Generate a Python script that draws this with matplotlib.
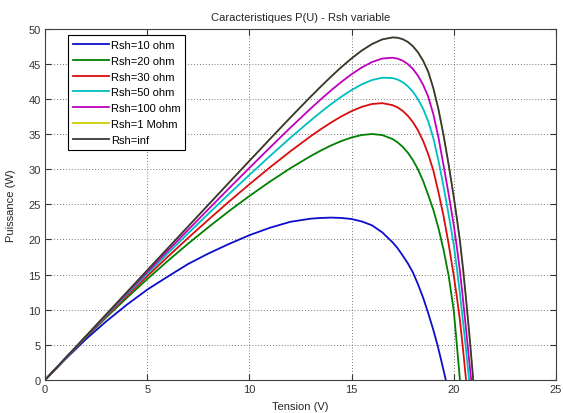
import matplotlib
matplotlib.use("Agg")
import matplotlib.pyplot as plt

plt.rcParams["font.family"] = ["Liberation Sans", "DejaVu Sans"]

# P(U) (U in volts, P in watts)
u_base = [0, 1, 2, 3, 4, 5, 6, 7, 8, 9, 10, 11, 12, 13,
          13.5, 14, 14.5, 15, 15.5, 16, 16.5, 17, 17.25, 17.5, 17.75, 18, 18.25, 18.5, 18.75, 19]

u_r10 = u_base + [19.2, 19.4, 19.61]
p_r10 = [0, 2.97, 5.8, 8.35, 10.7, 12.85, 14.7, 16.5, 18.0, 19.35, 20.6, 21.65, 22.5, 22.95,
         23.05, 23.1, 23.05, 22.9, 22.55, 22.0, 21.0, 19.6, 18.75, 17.7, 16.6, 15.3, 13.6, 11.7, 9.5, 7.1,
         5.0, 2.6, 0]

u_r20 = u_base + [19.25, 19.5, 19.75, 20, 20.15, 20.3]
p_r20 = [0, 3.07, 6.04, 8.91, 11.68, 14.35, 16.92, 19.39, 21.75, 24.02, 26.17, 28.21, 30.12, 31.86,
         32.65, 33.37, 33.99, 34.5, 34.85, 34.99, 34.84, 34.28, 33.81, 33.17, 32.34, 31.28, 29.95, 28.3, 26.3, 24.2,
         21.6, 18.5, 14.8, 9.8, 5.0, 0]

u_r30 = u_base + [19.25, 19.5, 19.75, 20, 20.15, 20.3, 20.45, 20.6]
p_r30 = [0, 3.09, 6.11, 9.06, 11.95, 14.77, 17.52, 20.2, 22.82, 25.37, 27.84, 30.23, 32.52, 34.68,
         35.69, 36.63, 37.5, 38.25, 38.86, 39.26, 39.38, 39.1, 38.77, 38.28, 37.59, 36.68, 35.5, 34.0, 32.1, 29.8,
         26.7, 23.3, 19.3, 14.8, 11.8, 8.5, 4.4, 0]

u_r50 = u_base + [19.25, 19.5, 19.75, 20, 20.15, 20.3, 20.5, 20.62, 20.75]
p_r50 = [0, 3.1, 6.16, 9.18, 12.16, 15.1, 18.0, 20.86, 23.67, 26.45, 29.17, 31.84, 34.44, 36.93,
         38.12, 39.25, 40.3, 41.25, 42.06, 42.67, 43.0, 42.95, 42.74, 42.36, 41.79, 41.0, 39.94, 38.56, 36.8, 34.4,
         31.2, 27.5, 23.5, 19.2, 15.9, 12.3, 7.0, 3.7, 0]

u_r100 = u_base + [19.25, 19.5, 19.75, 20, 20.15, 20.3, 20.45, 20.6, 20.72, 20.85]
p_r100 = [0, 3.11, 6.2, 9.27, 12.32, 15.35, 18.36, 21.35, 24.31, 27.26, 30.17, 33.05, 35.88, 38.62,
          39.94, 41.21, 42.4, 43.5, 44.46, 45.23, 45.73, 45.84, 45.71, 45.42, 44.94, 44.24, 43.27, 41.99, 40.3, 37.8,
          34.5, 30.5, 26.4, 22.0, 18.9, 15.5, 11.5, 7.2, 3.7, 0]

u_inf = u_base + [19.25, 19.5, 19.75, 20, 20.15, 20.3, 20.45, 20.6, 20.78, 20.95]
p_inf = [0, 3.12, 6.24, 9.36, 12.48, 15.6, 18.72, 21.84, 24.95, 28.07, 31.17, 34.26, 37.32, 40.31,
         41.76, 43.17, 44.51, 45.75, 46.87, 47.79, 48.45, 48.73, 48.69, 48.48, 48.09, 47.48, 46.6, 45.41, 43.84, 41.5,
         38.5, 34.8, 30.6, 26.0, 23.0, 19.8, 15.9, 11.5, 5.9, 0]
p_1meg = p_inf  # same as Rsh=inf at this scale, hidden under it

labels = ["Rsh=10 ohm", "Rsh=20 ohm", "Rsh=30 ohm", "Rsh=50 ohm",
          "Rsh=100 ohm", "Rsh=1 Mohm", "Rsh=inf"]
colors = [(0.05, 0.05, 0.8), (0.0, 0.5, 0.0), (0.85, 0.05, 0.05), (0.0, 0.75, 0.75),
          (0.75, 0.0, 0.75), (0.8, 0.8, 0.0), (0.22, 0.22, 0.22)]
series = [(u_r10, p_r10), (u_r20, p_r20), (u_r30, p_r30), (u_r50, p_r50),
          (u_r100, p_r100), (u_inf, p_1meg), (u_inf, p_inf)]

fig = plt.figure(figsize=(5.63, 4.14), dpi=100)
ax = fig.add_axes([45 / 563, 33 / 414, 511 / 563, 351.5 / 414])

for (u, p), c, lab in zip(series, colors, labels):
    ax.plot(u, p, color=c, lw=1.0 if lab == "Rsh=1 Mohm" else 1.3, label=lab)

ax.set_xlim(0, 25); ax.set_ylim(0, 50)
ax.set_xticks(range(0, 26, 5)); ax.set_yticks(range(0, 51, 5))
ax.grid(True, color="0.3", ls=(0, (1, 2.5)), lw=0.6)
ax.tick_params(direction="in", top=True, right=True, length=4, width=0.8,
               labelsize=8, colors="0.2", pad=3)
for s in ax.spines.values():
    s.set_color("0.25"); s.set_linewidth(0.8)

ax.set_title("Caracteristiques P(U) - Rsh variable", fontsize=8, color="0.15", pad=6)
ax.set_xlabel("Tension (V)", fontsize=8, color="0.15", labelpad=5)
ax.set_ylabel("Puissance (W)", fontsize=8, color="0.15", labelpad=9)

leg = ax.legend(loc="upper left", bbox_to_anchor=(68 / 563, 1 - 36 / 414),
                bbox_transform=fig.transFigure, fontsize=8, handlelength=3.2,
                labelspacing=0.52, borderpad=0.45, handletextpad=0.2,
                fancybox=False, framealpha=1, borderaxespad=0)
leg.get_frame().set_edgecolor("k"); leg.get_frame().set_linewidth(0.8)
for h in leg.get_lines():
    h.set_linewidth(1.3)

fig.savefig("out.png", dpi=100)
